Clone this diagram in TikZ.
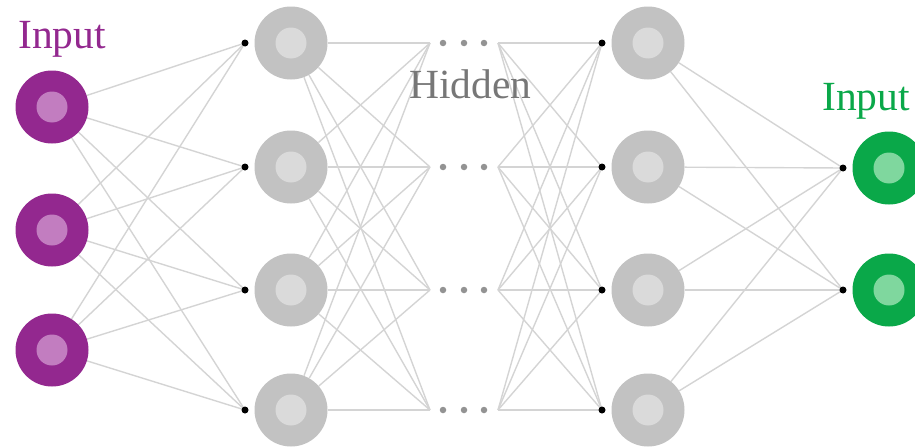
\documentclass[tikz,border=0pt]{standalone}
\usepackage{fontspec}
\setmainfont{Liberation Serif}
\usetikzlibrary{backgrounds}
\definecolor{purpO}{HTML}{93288F}
\definecolor{purpI}{HTML}{C27DC0}
\definecolor{grayO}{HTML}{C2C2C2}
\definecolor{grayI}{HTML}{DADADA}
\definecolor{grnO}{HTML}{0AA849}
\definecolor{grnI}{HTML}{7FD79E}
\definecolor{wire}{HTML}{D4D4D4}
\definecolor{lblgray}{HTML}{777777}
\begin{document}
\begin{tikzpicture}[x=1pt,y=-1pt,
  neuron/.style 2 args={circle,inner sep=0pt,minimum size=73pt,fill=#1,
    path picture={\fill[#2] (path picture bounding box.center) circle (15.5pt);}},
  junction/.style={circle,fill=black,inner sep=0pt,minimum size=7pt},
  ellip/.style={circle,fill=gray!85,inner sep=0pt,minimum size=6.5pt},
  wireline/.style={draw=wire,line width=1.4pt},
  lbl/.style={font=\fontsize{41.5}{45}\selectfont,inner sep=0pt,anchor=base west}]
\useasboundingbox (0,0) rectangle (915,447);
% input layer
\foreach \i/\y in {1/107,2/230,3/350}{
  \node[neuron={purpO}{purpI}] (in\i) at (52,\y) {};
}
% hidden layers
\foreach \j/\y in {1/43,2/167,3/290,4/410}{
  \node[neuron={grayO}{grayI}] (ha\j) at (291,\y) {};
  \node[neuron={grayO}{grayI}] (hb\j) at (648,\y) {};
  \node[junction] (da\j) at (245,\y) {};
  \node[junction] (db\j) at (602,\y) {};
  \coordinate (ca\j) at (430,\y);
  \coordinate (cb\j) at (498,\y);
  \node[ellip] (ea\j) at (443,\y) {};
  \node[ellip] (eb\j) at (464,\y) {};
  \node[ellip] (ec\j) at (484,\y) {};
}
% output layer
\foreach \k/\y in {1/168,2/290}{
  \node[neuron={grnO}{grnI}] (out\k) at (889,\y) {};
  \node[junction] (do\k) at (843,\y) {};
}
% wires
\begin{scope}[on background layer]
\foreach \i in {1,2,3}{\foreach \j in {1,2,3,4}{
  \draw[wireline] (in\i) -- (da\j.center);}}
\foreach \i in {1,2,3,4}{\foreach \j in {1,2,3,4}{
  \draw[wireline] (ha\i) -- (ca\j);
  \draw[wireline] (cb\i) -- (db\j.center);}}
\foreach \i in {1,2,3,4}{\foreach \k in {1,2}{
  \draw[wireline] (hb\i) -- (do\k.center);}}
\end{scope}
% labels
\node[lbl,text=purpO] (linput) at (18,48) {Input};
\node[lbl,text=lblgray] (lhidden) at (409,98) {Hidden};
\node[lbl,text=grnO] (loutput) at (822,110) {Input};
\end{tikzpicture}
\end{document}
